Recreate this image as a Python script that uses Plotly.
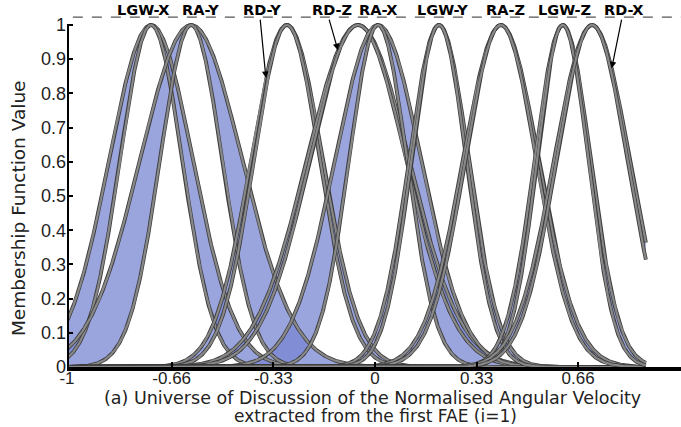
import numpy as np
import plotly.graph_objects as go

# Interval type-2 Gaussian membership functions (uncertain standard deviation)
names = ["LGW-X", "RA-Y", "RD-Y", "RD-Z", "RA-X", "LGW-Y", "RA-Z", "LGW-Z", "RD-X"]
centres = [-0.727, -0.597, -0.286, -0.055, 0.010, 0.208, 0.409, 0.610, 0.705]
sigma_upper = [0.136, 0.166, 0.117, 0.166, 0.140, 0.097, 0.123, 0.091, 0.123]
sigma_lower = [0.101, 0.101, 0.107, 0.156, 0.094, 0.089, 0.115, 0.083, 0.115]

# label positions along the top of the chart
label_x = [-0.751, -0.565, -0.367, -0.140, 0.010, 0.218, 0.425, 0.617, 0.808]
# labels pointing to their curve with an arrow: (name, tail x, head x)
arrows = [("RD-Y", -0.373, -0.354), ("RD-Z", -0.150, -0.120), ("RD-X", 0.802, 0.769)]

x_ticks = [-1, -0.66, -0.33, 0, 0.33, 0.66]
x_tick_text = ["-1", "-0.66", "-0.33", "0", "0.33", "0.66"]
y_ticks = [0, 0.1, 0.2, 0.3, 0.4, 0.5, 0.6, 0.7, 0.8, 0.9, 1]
y_tick_text = ["0", "0.1", "0.2", "0.3", "0.4", "0.5", "0.6", "0.7", "0.8", "0.9", "1"]

x_domain = (-1.0, 0.88)
x_range = [-1.0, 0.994]
y_range = [0.0, 1.073]
ref_level = 1.023
label_level = 1.044

FONT = "Arial, Liberation Sans, sans-serif"
WIDE = "DejaVu Sans, Verdana, sans-serif"
FILL = "rgba(120,134,210,0.75)"

x = np.linspace(x_domain[0], x_domain[1], 941)


def gauss(xv, c, s):
    return np.exp(-((xv - c) ** 2) / (2 * s ** 2))


fig = go.Figure()

# footprint of uncertainty
for c, su, sl in zip(centres, sigma_upper, sigma_lower):
    up = gauss(x, c, su)
    lo = gauss(x, c, sl)
    fig.add_trace(go.Scatter(
        x=np.concatenate([x, x[::-1]]), y=np.concatenate([up, lo[::-1]]),
        mode="lines", fill="toself", fillcolor=FILL, line=dict(width=0),
        hoverinfo="skip", showlegend=False))

# upper and lower membership functions
for c, su, sl in zip(centres, sigma_upper, sigma_lower):
    for s in (su, sl):
        yv = gauss(x, c, s)
        fig.add_trace(go.Scatter(x=x, y=yv, mode="lines",
                                 line=dict(color="#3c3c3c", width=3.8),
                                 hoverinfo="skip", showlegend=False))
        fig.add_trace(go.Scatter(x=x, y=yv, mode="lines",
                                 line=dict(color="#888888", width=2.2),
                                 hoverinfo="skip", showlegend=False))

# dashed reference line above the peaks
fig.add_shape(type="line", xref="x", yref="y", x0=-0.981, x1=x_range[1],
              y0=ref_level, y1=ref_level,
              line=dict(color="#555555", width=1.2, dash="10px,9px"))

# vertical axis line from 0 to 1
fig.add_shape(type="line", xref="x", yref="y", x0=-1, x1=-1, y0=0, y1=1,
              line=dict(color="black", width=4))

for name, lx in zip(names, label_x):
    fig.add_annotation(x=lx, y=label_level, xref="x", yref="y", text="<b>%s</b>" % name,
                       showarrow=False, font=dict(family=WIDE, size=14.5, color="black"))

for name, tx, hx in arrows:
    i = names.index(name)
    hy = float(gauss(hx, centres[i], sigma_upper[i]))
    fig.add_annotation(x=hx, y=hy, ax=tx, ay=ref_level - 0.003, xref="x", yref="y",
                       axref="x", ayref="y", text="", showarrow=True,
                       arrowhead=2, arrowsize=1.1, arrowwidth=1.2, arrowcolor="black")

# axis titles
fig.add_annotation(xref="paper", yref="paper", x=-0.0798, y=0.433, xanchor="center",
                   yanchor="middle", text="Membership Function Value", textangle=-90,
                   showarrow=False, font=dict(family=WIDE, size=18.5, color="#222222"))
fig.add_annotation(xref="paper", yref="paper", x=0.498, y=-0.0845, yanchor="middle",
                   text="(a) Universe of Discussion of the Normalised Angular Velocity",
                   showarrow=False, font=dict(family=WIDE, size=17.5, color="#222222"))
fig.add_annotation(xref="paper", yref="paper", x=0.503, y=-0.1335, yanchor="middle",
                   text="extracted from the first FAE (i=1)",
                   showarrow=False, font=dict(family=WIDE, size=17, color="#222222"))

fig.update_layout(
    width=681, height=427,
    margin=dict(l=67, r=0, t=0, b=60),
    plot_bgcolor="white", paper_bgcolor="white",
    font=dict(family=FONT, size=18, color="#222222"),
    xaxis=dict(range=x_range, tickvals=x_ticks, ticktext=x_tick_text,
               tickfont=dict(family=FONT, size=17, color="#222222"),
               ticks="inside", ticklen=5, tickwidth=2, tickcolor="black",
               ticklabelstandoff=-7,
               showline=True, linewidth=4, linecolor="black",
               showgrid=False, zeroline=False, fixedrange=True),
    yaxis=dict(range=y_range, tickvals=y_ticks, ticktext=y_tick_text,
               tickfont=dict(family=FONT, size=18, color="#222222"),
               ticks="inside", ticklen=6, tickwidth=2, tickcolor="black",
               showline=False, showgrid=False, zeroline=False, fixedrange=True),
)

fig.write_html("out.html")
